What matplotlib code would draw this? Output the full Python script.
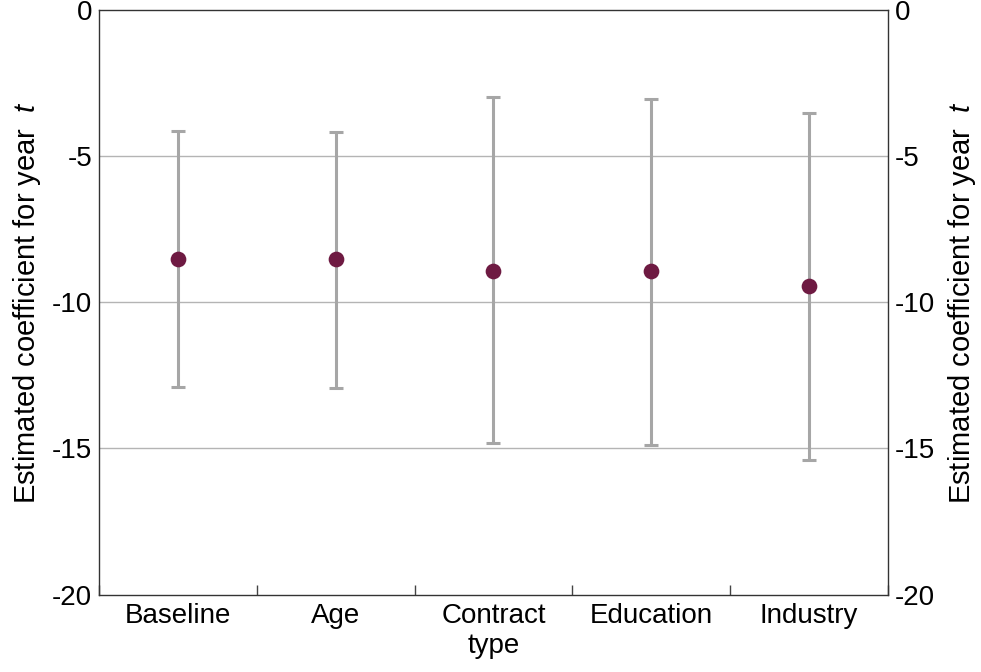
import matplotlib
matplotlib.use("Agg")
import matplotlib.pyplot as plt
import numpy as np

categories = ["Baseline", "Age", "Contract\ntype", "Education", "Industry"]
estimates = [-8.53, -8.53, -8.92, -8.92, -9.43]
upper = [-4.16, -4.19, -2.99, -3.04, -3.53]
lower = [-12.89, -12.93, -14.83, -14.88, -15.40]
yticks = [0, -5, -10, -15, -20]

plt.rcParams['font.family'] = ['Liberation Sans', 'DejaVu Sans']
plt.rcParams['mathtext.fontset'] = 'custom'
plt.rcParams['mathtext.it'] = 'Liberation Sans:italic'
plt.rcParams['mathtext.rm'] = 'Liberation Sans'

fig = plt.figure(figsize=(9.81, 6.72), dpi=100)
ax = fig.add_axes([0.1009, 0.1152, 0.9052 - 0.1009, 0.9854 - 0.1152])

x = np.arange(len(categories))
est = np.array(estimates)
yerr = np.array([est - np.array(lower), np.array(upper) - est])
ax.errorbar(x, est, yerr=yerr, fmt='none', ecolor='#a6a6a6', elinewidth=2.2,
            capsize=5, capthick=2.2, zorder=2)
ax.plot(x, est, 'o', color='#6e1a42', markersize=11.3, zorder=3, markeredgewidth=0)

ax.set_xlim(-0.5, len(categories) - 0.5)
ax.set_ylim(-20, 0)
ax.set_yticks(yticks)
ax.set_yticklabels([str(v) for v in yticks])
for v in yticks[1:-1]:
    ax.axhline(v, color='#b4b4b4', linewidth=1.0, zorder=1)

ax.set_xticks(np.arange(-0.5, len(categories), 1.0))
ax.set_xticklabels([])
ax.set_xticks(x, minor=True)
ax.set_xticklabels(categories, minor=True, fontsize=20)
ax.tick_params(axis='x', which='major', direction='in', length=7.5, width=1.0, color='#444444')
ax.tick_params(axis='x', which='minor', length=0, pad=6)
ax.tick_params(axis='y', length=0, labelsize=20, pad=5)

for s in ax.spines.values():
    s.set_color('#333333')
    s.set_linewidth(1.0)

label = "Estimated coefficient for year  $t$"
ax.set_ylabel(label, fontsize=21, labelpad=6)

ax2 = ax.twinx()
ax2.set_ylim(-20, 0)
ax2.set_yticks(yticks)
ax2.set_yticklabels([str(v) for v in yticks])
ax2.tick_params(axis='y', length=0, labelsize=20, pad=5)
ax2.set_ylabel(label, fontsize=21, rotation=90, labelpad=8)
for s in ax2.spines.values():
    s.set_visible(False)

fig.savefig("out.png", dpi=100)
